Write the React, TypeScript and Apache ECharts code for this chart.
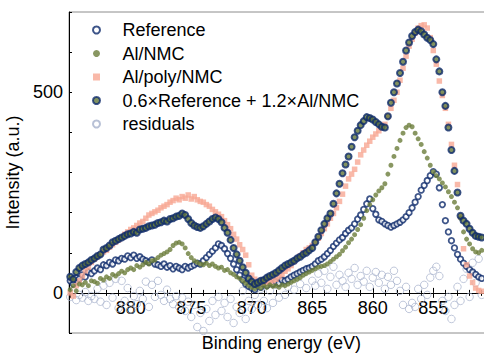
import React, { useEffect, useRef } from "react";
import * as echarts from "echarts";

// Binding-energy grid (eV), 0.25 eV steps from 885 down to 851
const energies: number[] = Array.from({ length: 137 }, (_, i) => +(885 - i * 0.25).toFixed(2));

const reference = [
  30, 22, 38, 35, 45, 40, 52, 48, 55, 62, 58, 70, 68, 76, 72, 82, 80, 86, 84, 92,
  88, 94, 86, 90, 84, 80, 76, 82, 72, 70, 66, 72, 64, 68, 60, 66, 62, 58, 66, 62,
  66, 70, 74, 72, 80, 88, 96, 104, 112, 122, 118, 110, 98, 86, 72, 58, 44, 32, 22, 16,
  12, 8, 18, 14, 22, 18, 26, 22, 28, 24, 32, 30, 34, 40, 44, 48, 52, 56, 60, 62,
  66, 72, 80, 84, 90, 98, 106, 116, 124, 132, 138, 148, 156, 162, 172, 184, 194, 208, 222, 234,
  210, 196, 182, 178, 172, 168, 164, 168, 172, 176, 182, 190, 200, 212, 226, 240, 256, 268, 280, 292,
  302, 296, 262, 220, 180, 152, 130, 112, 96, 84, 74, 66, 58, 52, 46, 40, 36,
];

const alNmc = [
  8, 18, 5, 22, 20, 26, 18, 30, 28, 24, 36, 32, 40, 36, 46, 42, 48, 54, 50, 58,
  62, 58, 68, 64, 70, 76, 72, 80, 82, 88, 94, 98, 102, 108, 118, 124, 126, 122, 112, 98,
  88, 80, 76, 72, 70, 74, 68, 72, 66, 62, 64, 56, 58, 50, 46, 40, 36, 30, 24, 18,
  14, 10, 16, 12, 18, 14, 20, 16, 18, 14, 20, 18, 22, 26, 30, 34, 38, 44, 48, 52,
  56, 60, 64, 66, 68, 72, 78, 84, 90, 96, 105, 114, 125, 134, 145, 158, 170, 186, 205, 220,
  232, 244, 254, 262, 272, 296, 318, 340, 360, 380, 398, 412, 418, 414, 398, 384, 370, 352, 336, 318,
  302, 292, 284, 274, 264, 252, 240, 226, 212, 186, 152, 134, 122, 110, 102, 100, 106,
];

const alPolyNmc = [
  0, -8, 18, 30, 42, 55, 64, 76, 84, 90, 96, 102, 106, 114, 120, 126, 132, 138, 146, 152,
  158, 162, 168, 174, 178, 186, 194, 198, 202, 206, 212, 216, 220, 226, 230, 236, 232, 240, 236, 244,
  234, 240, 232, 228, 226, 220, 216, 208, 202, 196, 190, 180, 170, 160, 146, 134, 120, 108, 94, 70,
  44, 34, 26, 30, 24, 28, 26, 30, 34, 40, 46, 54, 60, 68, 78, 86, 92, 100, 108, 112,
  118, 126, 136, 148, 160, 172, 186, 198, 212, 228, 246, 266, 284, 296, 308, 326, 344, 356, 368, 378,
  388, 396, 404, 412, 420, 440, 460, 480, 500, 530, 560, 590, 615, 632, 648, 660, 666, 668, 660, 636,
  604, 570, 528, 492, 460, 420, 370, 318, 270, 190, 110, 70, 42, 26, 12, 6, 4,
];

const fitCombo = [
  40, 34, 52, 62, 68, 72, 76, 82, 86, 92, 96, 108, 112, 118, 126, 130, 134, 138, 142, 146,
  148, 152, 150, 158, 160, 162, 166, 168, 170, 174, 176, 180, 178, 184, 186, 190, 192, 198, 194, 184,
  174, 168, 164, 162, 166, 172, 178, 184, 188, 184, 176, 162, 150, 132, 112, 96, 80, 64, 50, 36,
  28, 22, 26, 30, 32, 38, 42, 46, 50, 56, 62, 68, 72, 76, 80, 86, 90, 96, 100, 106,
  112, 126, 140, 156, 172, 186, 198, 222, 248, 272, 298, 320, 340, 364, 388, 404, 418, 428, 438, 436,
  432, 426, 420, 414, 412, 440, 474, 500, 522, 548, 576, 604, 624, 640, 650, 656, 652, 644, 636, 630,
  620, 582, 552, 500, 466, 412, 356, 304, 250, 192, 180, 172, 160, 150, 142, 140, 138,
];

const residuals = [
  -10, 5, -18, -5, -12, 2, -20, -8, -15, 10, -22, 18, -30, 25, -12, 35, -38, 30, -20, 12,
  -42, -8, -28, 5, -15, 28, -35, 20, -10, 30, -5, -20, 8, -15, -28, -8, -35, -12, -45, -22,
  -60, -30, -85, -50, -95, -40, -70, -20, -55, -10, -45, -25, -60, -15, -75, -35, -50, 5, -65, -20,
  -40, -5, -30, 10, -20, -38, 5, -25, 20, -12, 30, -5, 15, 35, 8, 45, 22, 50, 12, 60,
  30, 18, 48, 25, 55, 10, 40, 65, 20, 45, 30, 15, 50, 35, 62, 20, 42, 28, 55, 15,
  38, 52, 25, 45, 10, 40, 20, 55, 30, 5, -30, 15, -40, -25, -35, 10, -15, 20, -5, 38,
  55, 65, 42, -20, -45, -10, -65, -30, 15, -20, 35, 60, -10, 75, 25, 85, -5,
];

const seriesNames = [
  "Reference",
  "Al/NMC",
  "Al/poly/NMC",
  "0.6×Reference + 1.2×Al/NMC",
  "residuals",
];

const xTickLabels = [880, 875, 870, 865, 860, 855];
const yTickLabels = [0, 500];

const FONT = "'Liberation Sans', Arial, Helvetica, sans-serif";
const NAVY = "#0e2a6b";
const OLIVE = "#6b7d3b";
const SALMON = "#f8a894";
const RESID = "#a6b1cc";
const SQUARE = "path://M0 0H10V10H0Z";

const Y_MIN = -100;
const Y_MAX = 700;
const GRID_TOP = 12;
const GRID_BOTTOM = 20;
const CHART_H = 353;

const toPairs = (arr: number[]) => energies.map((e, i) => [e, arr[i]]);

export default function App() {
  const ref = useRef<HTMLDivElement | null>(null);

  useEffect(() => {
    if (!ref.current) return;
    const chart = echarts.init(ref.current, undefined, { renderer: "svg" });

    // distance (px) from the grid's bottom edge up to the y = 0 line
    const plotH = CHART_H - GRID_TOP - GRID_BOTTOM;
    const zeroOffset = -((0 - Y_MIN) / (Y_MAX - Y_MIN)) * plotH;

    const xCommon = {
      type: "value" as const,
      min: 850,
      max: 885.1,
      interval: 5,
      inverse: true,
      position: "bottom" as const,
      offset: zeroOffset,
      splitLine: { show: false },
      axisLine: { show: true, onZero: false, lineStyle: { color: "#000", width: 1 } },
    };

    chart.setOption({
      animation: false,
      textStyle: { fontFamily: FONT },
      grid: {
        left: 69,
        right: -9.8,
        top: GRID_TOP,
        bottom: GRID_BOTTOM,
        containLabel: false,
        outerBoundsMode: "none",
        show: true,
        borderColor: "#8c8c8c",
        borderWidth: 1,
        backgroundColor: "transparent",
      },
      legend: {
        orient: "vertical",
        left: 87,
        top: 16,
        itemWidth: 42,
        itemHeight: 7,
        itemGap: 5.5,
        symbolKeepAspect: true,
        textStyle: { fontSize: 18, color: "#000", fontFamily: FONT },
        data: seriesNames,
      },
      xAxis: [
        {
          ...xCommon,
          name: "Binding energy (eV)",
          nameLocation: "middle",
          nameGap: 41,
          nameTextStyle: { fontSize: 18, color: "#000", fontFamily: FONT },
          axisTick: { show: true, inside: false, length: 5, lineStyle: { color: "#000" } },
          minorTick: { show: true, splitNumber: 5, length: 3, lineStyle: { color: "#000" } },
          axisLabel: {
            fontSize: 18,
            color: "#000",
            margin: 6,
            fontFamily: FONT,
            formatter: (v: number) =>
              xTickLabels.includes(Math.round(v)) && Math.abs(v - Math.round(v)) < 1e-6 ? String(Math.round(v)) : "",
          },
        },
        {
          ...xCommon,
          axisTick: { show: true, inside: true, length: 5, lineStyle: { color: "#000" } },
          minorTick: { show: true, splitNumber: 5, length: 3, lineStyle: { color: "#000" } },
          axisLabel: { show: false },
        },
      ],
      yAxis: {
        type: "value",
        min: Y_MIN,
        max: Y_MAX,
        interval: 100,
        position: "left",
        name: "Intensity (a.u.)",
        nameLocation: "middle",
        nameGap: 38,
        nameRotate: 90,
        nameTextStyle: { fontSize: 18, color: "#000", fontFamily: FONT },
        splitLine: { show: false },
        axisLine: { show: true, onZero: false, lineStyle: { color: "#000", width: 1 } },
        axisTick: { show: true, inside: true, length: 3, lineStyle: { color: "#000" } },
        axisLabel: {
          fontSize: 18,
          color: "#000",
          margin: 6,
          fontFamily: FONT,
          formatter: (v: number) => (yTickLabels.includes(v) ? String(v) : ""),
        },
      },
      series: [
        {
          name: "residuals",
          type: "scatter",
          data: toPairs(residuals),
          symbol: "circle",
          symbolSize: 7.5,
          symbolKeepAspect: true,
          itemStyle: { color: "rgba(255,255,255,0)", borderColor: RESID, borderWidth: 0.9 },
        },
        {
          name: "Reference",
          type: "scatter",
          data: toPairs(reference),
          symbol: "circle",
          symbolSize: 5.5,
          symbolKeepAspect: true,
          itemStyle: { color: "#ffffff", borderColor: NAVY, borderWidth: 1.8 },
        },
        {
          name: "Al/poly/NMC",
          type: "scatter",
          data: toPairs(alPolyNmc),
          symbol: SQUARE,
          symbolSize: 5.5,
          symbolKeepAspect: true,
          itemStyle: { color: SALMON },
        },
        {
          name: "Al/NMC",
          type: "scatter",
          data: toPairs(alNmc),
          symbol: "circle",
          symbolSize: 5,
          symbolKeepAspect: true,
          itemStyle: { color: OLIVE },
        },
        {
          name: "0.6×Reference + 1.2×Al/NMC",
          type: "scatter",
          data: toPairs(fitCombo),
          symbol: "circle",
          symbolSize: 6,
          symbolKeepAspect: true,
          itemStyle: { color: "#62773a", borderColor: NAVY, borderWidth: 2 },
        },
      ],
    });

    return () => chart.dispose();
  }, []);

  return (
    <div
      ref={ref}
      style={{ position: "fixed", left: 0, top: 0, width: 484, height: 353, background: "#fff" }}
    />
  );
}
